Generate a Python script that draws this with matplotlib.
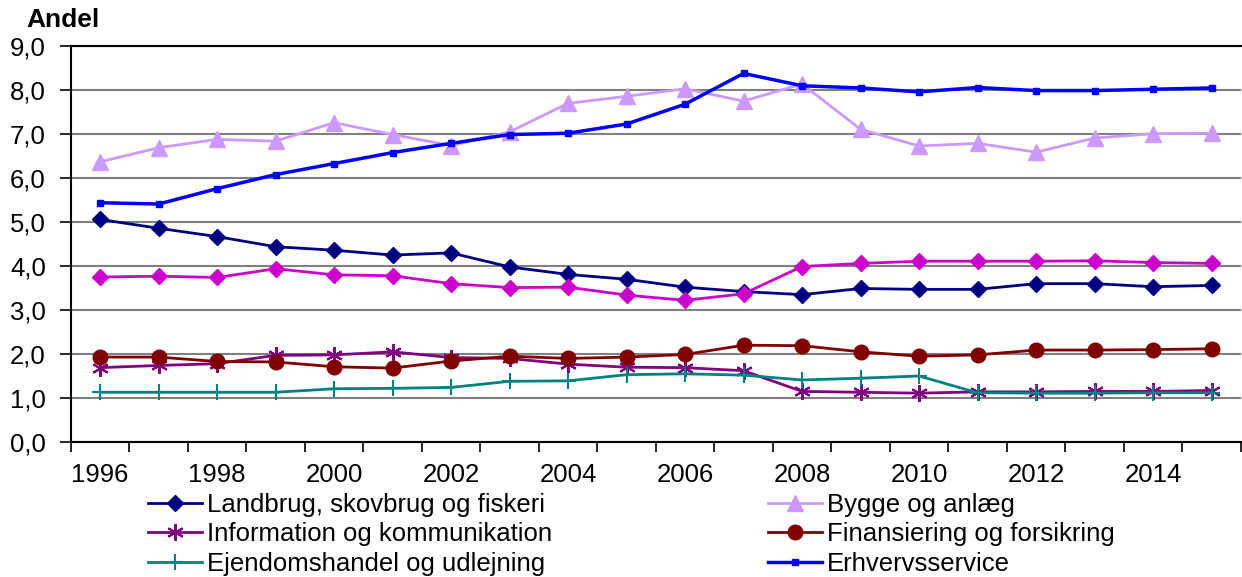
import numpy as np
import matplotlib.pyplot as plt
from matplotlib.ticker import FuncFormatter

plt.rcParams['font.family'] = ['Liberation Sans', 'DejaVu Sans']

years = list(range(1996, 2016))

landbrug = [5.06, 4.86, 4.67, 4.44, 4.36, 4.25, 4.30, 3.98, 3.81, 3.70,
            3.52, 3.42, 3.35, 3.49, 3.47, 3.47, 3.60, 3.60, 3.53, 3.56]
bygge = [6.37, 6.69, 6.88, 6.84, 7.26, 6.99, 6.74, 7.05, 7.70, 7.86,
         8.03, 7.75, 8.14, 7.11, 6.73, 6.79, 6.59, 6.91, 7.01, 7.02]
information = [1.69, 1.74, 1.78, 1.97, 1.98, 2.05, 1.92, 1.90, 1.77, 1.70,
               1.69, 1.62, 1.15, 1.13, 1.11, 1.14, 1.14, 1.15, 1.15, 1.17]
finansiering = [1.93, 1.93, 1.83, 1.82, 1.71, 1.68, 1.84, 1.95, 1.90, 1.93,
                1.99, 2.20, 2.19, 2.05, 1.95, 1.98, 2.09, 2.09, 2.10, 2.12]
ejendom = [1.13, 1.13, 1.13, 1.13, 1.21, 1.22, 1.24, 1.38, 1.39, 1.53,
           1.55, 1.52, 1.41, 1.45, 1.50, 1.12, 1.11, 1.11, 1.12, 1.12]
erhverv = [5.44, 5.41, 5.76, 6.08, 6.33, 6.58, 6.79, 6.99, 7.02, 7.23,
           7.68, 8.38, 8.10, 8.05, 7.96, 8.06, 7.99, 7.99, 8.02, 8.05]
# serie uden forklaring i legenden
oevrige = [3.75, 3.77, 3.74, 3.94, 3.80, 3.78, 3.60, 3.51, 3.52, 3.34,
           3.22, 3.37, 3.99, 4.06, 4.11, 4.11, 4.11, 4.12, 4.08, 4.06]

x = np.arange(len(years))
fs = 18.5

fig = plt.figure(figsize=(12.42, 5.77), dpi=100)
ax = fig.add_axes([0.057, 0.234, 0.942, 0.686])

lw = 2.0
l1, = ax.plot(x, landbrug, color='#000080', lw=lw, marker='D', ms=8,
              label='Landbrug, skovbrug og fiskeri')
l2, = ax.plot(x, bygge, color='#CC99FF', lw=lw, marker='^', ms=12,
              label='Bygge og anlæg')
l3, = ax.plot(x, information, color='#800080', lw=lw, marker=(6, 2, 0), ms=12,
              mew=1.5, label='Information og kommunikation')
l4, = ax.plot(x, finansiering, color='#800000', lw=lw, marker='o', ms=10.5,
              label='Finansiering og forsikring')
l5, = ax.plot(x, ejendom, color='#008080', lw=lw, marker='+', ms=12, mew=1.5,
              label='Ejendomshandel og udlejning')
l6, = ax.plot(x, erhverv, color='#0000FF', lw=lw + 0.5, marker='s', ms=4.5,
              label='Erhvervsservice')
ax.plot(x, oevrige, color='#CC00CC', lw=lw, marker='D', ms=8)

ax.set_xlim(-0.5, len(years) - 0.5)
ax.set_ylim(0, 9)
ax.set_yticks(np.arange(0, 10, 1))
ax.yaxis.set_major_formatter(FuncFormatter(lambda v, p: ('%.1f' % v).replace('.', ',')))
ax.grid(axis='y', color='#808080', lw=1.5)
ax.set_axisbelow(True)

ax.set_xticks(np.arange(-0.5, len(years), 1))
ax.set_xticklabels([])
ax.set_xticks(x[::2], minor=True)
ax.set_xticklabels([str(y) for y in years[::2]], minor=True)
ax.tick_params(axis='x', which='major', length=7, width=1.2, direction='out')
ax.tick_params(axis='x', which='minor', length=0, pad=15, labelsize=fs)
ax.tick_params(axis='y', length=8, width=1.2, labelsize=fs, pad=10)

ax.spines['right'].set_visible(False)
ax.spines['top'].set_color('black')
ax.spines['top'].set_linewidth(1.5)
ax.spines['left'].set_linewidth(1.5)
ax.spines['bottom'].set_linewidth(1.5)

fig.text(0.021, 0.987, 'Andel', fontsize=19, fontweight='bold', va='top', ha='left')

fig.legend(handles=[l1, l3, l5, l2, l4, l6], ncol=2, loc='upper left',
           bbox_to_anchor=(0.119, 0.145), frameon=False, fontsize=fs,
           handlelength=2.1, handletextpad=0.2, columnspacing=8.4,
           labelspacing=0.2, borderaxespad=0, borderpad=0)

fig.savefig('out.png', dpi=100)
